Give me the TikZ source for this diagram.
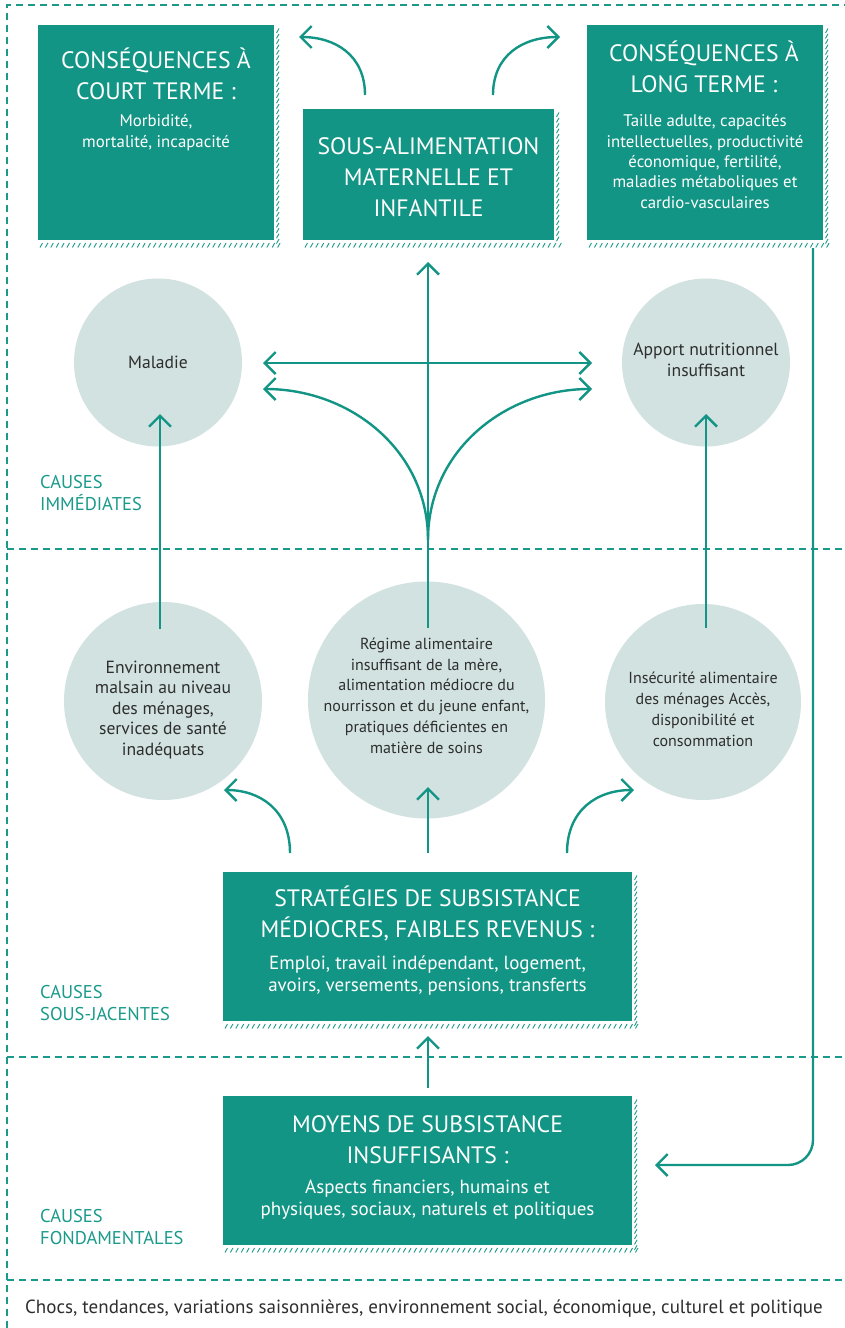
\documentclass[tikz,border=0pt]{standalone}
\usepackage{fontspec}
\setmainfont{PT Sans}
\usetikzlibrary{arrows.meta}
\definecolor{tealbox}{HTML}{139585}
\definecolor{tealline}{HTML}{1A9A8A}
\definecolor{circfill}{HTML}{D1E2E0}
\definecolor{darktext}{HTML}{2E2E2E}
\newcommand\hatchbox[4]{%
  \pgfmathtruncatemacro\hbN{(#4-#2-3)/5.4}%
  \foreach \i in {0,...,\hbN}{\draw[hatch] ({#3+2.5},{#2+8+\i*5.4}) -- ++(2.5,-4.5);}%
  \pgfmathtruncatemacro\hbM{(#3-#1+4)/5.4}%
  \foreach \i in {0,...,\hbM}{\draw[hatch] ({#1+2+\i*5.4},{#4+7.5}) -- ++(2.5,-4.5);}%
}
\begin{document}
\begin{tikzpicture}[x=1pt,y=-1pt,
  box/.style={fill=tealbox, inner sep=0pt, draw=none},
  circ/.style={circle, fill=circfill, inner sep=0pt, draw=none},
  title/.style={text=white, align=center, font=\fontsize{23.7}{31}\selectfont, anchor=base, inner sep=0pt},
  sub/.style={text=white, align=center, font=\fontsize{16.8}{20.3}\selectfont, anchor=base, inner sep=0pt},
  ctext/.style={text=darktext, align=center, font=\fontsize{17.6}{20.5}\selectfont, anchor=base, inner sep=0pt},
  ctextn/.style={text=darktext, align=center, font=\fontsize{16}{20.7}\selectfont, anchor=base, inner sep=0pt},
  lab/.style={text=tealline, align=left, font=\fontsize{18.5}{22}\selectfont, anchor=base west, inner sep=0pt},
  sep/.style={draw=tealline, line width=1.8pt, dash pattern=on 7pt off 5pt},
  hatch/.style={draw=tealline, line width=0.9pt},
  arr/.style={draw=tealbox, line width=2.4pt, -{Straight Barb[length=11pt,width=22pt]}},
  dblarr/.style={draw=tealbox, line width=2.4pt, {Straight Barb[length=11pt,width=22pt]}-{Straight Barb[length=11pt,width=22pt]}},
]
\useasboundingbox (0,0) rectangle (845,1328);
\fill[white] (0,0) rectangle (845,1328);

% frame and separators
\draw[sep] (7,1328) -- (7,5) -- (845,5);
\draw[sep] (7,549) -- (845,549);
\draw[sep] (7,1057) -- (845,1057);
\draw[sep] (7,1280) -- (845,1280);

% boxes
\hatchbox{38}{25}{274}{240}
\hatchbox{303}{109}{554}{240}
\hatchbox{587}{25}{823}{240}
\hatchbox{223}{872}{632}{1021}
\hatchbox{223}{1096}{632}{1245}
\node[box, minimum width=236pt, minimum height=215pt] (b1) at (156,132.5) {};
\node[box, minimum width=251pt, minimum height=131pt] (b2) at (428.5,174.5) {};
\node[box, minimum width=236pt, minimum height=215pt] (b3) at (705,132.5) {};
\node[box, minimum width=409pt, minimum height=149pt] (b4) at (427.5,946.5) {};
\node[box, minimum width=409pt, minimum height=149pt] (b5) at (427.5,1170.5) {};

% box texts (anchor = baseline of the last line)
\node[title] (t1) at (156,99) {CONSÉQUENCES À\\COURT TERME :};
\node[sub] (s1) at (156,147) {Morbidité,\\mortalité, incapacité};
\node[title] (t2) at (428.5,216) {SOUS-ALIMENTATION\\MATERNELLE ET\\INFANTILE};
\node[title] (t3) at (704,92) {CONSÉQUENCES À\\LONG TERME :};
\node[sub] (s3) at (705,208) {Taille adulte, capacités\\intellectuelles, productivité\\économique, fertilité,\\maladies métaboliques et\\cardio-vasculaires};
\node[title] (t4) at (427.5,937) {STRATÉGIES DE SUBSISTANCE\\MÉDIOCRES, FAIBLES REVENUS :};
\node[sub, font=\fontsize{19}{22}\selectfont] (s4) at (427.5,991) {Emploi, travail indépendant, logement,\\avoirs, versements, pensions, transferts};
\node[title] (t5) at (427.5,1163) {MOYENS DE SUBSISTANCE\\INSUFFISANTS :};
\node[sub, font=\fontsize{19}{22}\selectfont] (s5) at (427.5,1215) {Aspects financiers, humains et\\physiques, sociaux, naturels et politiques};

% circles
\node[circ, minimum size=168pt] (c1) at (158,362.5) {};
\node[circ, minimum size=168pt] (c2) at (706,362.5) {};
\node[circ, minimum size=198pt] (c3) at (163,701) {};
\node[circ, minimum size=237pt] (c4) at (426.5,700) {};
\node[circ, minimum size=196pt] (c5) at (703,702) {};

\node[ctext] (x1) at (158,368) {Maladie};
\node[ctext, font=\fontsize{17.6}{21}\selectfont] (x2) at (706,376) {Apport nutritionnel\\insuffisant};
\node[ctext] (x3) at (163,755) {Environnement\\malsain au niveau\\des ménages,\\services de santé\\inadéquats};
\node[ctextn] (x4) at (426.5,753) {Régime alimentaire\\insuffisant de la mère,\\alimentation médiocre du\\nourrisson et du jeune enfant,\\pratiques déficientes en\\matière de soins};
\node[ctextn] (x5) at (703,746) {Insécurité alimentaire\\des ménages Accès,\\disponibilité et\\consommation};

% labels
\node[lab] (l1) at (40,510) {CAUSES\\IMMÉDIATES};
\node[lab] (l2) at (40,1020) {CAUSES\\SOUS-JACENTES};
\node[lab] (l3) at (40,1244) {CAUSES\\FONDAMENTALES};
\node[anchor=base, inner sep=0pt, text=darktext, font=\fontsize{19}{22}\selectfont] (foot) at (424,1313) {Chocs, tendances, variations saisonnières, environnement social, économique, culturel et politique};

% connector coordinates
\coordinate (p1s) at (365,95);   \coordinate (p1e) at (299,37);
\coordinate (p2s) at (493,95);   \coordinate (p2e) at (560,37);
\coordinate (vs) at (428,628);   \coordinate (ve) at (428,262);
\coordinate (fork) at (428,540);
\coordinate (hl) at (263,363);   \coordinate (hr) at (592,363);
\coordinate (cl) at (263,389);   \coordinate (cr) at (592,389);
\coordinate (m1s) at (160,629);  \coordinate (m1e) at (160,414);
\coordinate (m2s) at (706,628);  \coordinate (m2e) at (706,414);
\coordinate (q1s) at (290,853);  \coordinate (q1e) at (224,790);
\coordinate (q2s) at (428,853);  \coordinate (q2e) at (428,787);
\coordinate (q3s) at (567,853);  \coordinate (q3e) at (634,790);
\coordinate (z1s) at (428,1088); \coordinate (z1e) at (428,1036);
\coordinate (r0) at (813,248);   \coordinate (r1) at (655,1165);

% connectors
\draw[arr] (p1s) .. controls (365,55) and (335,37) .. (p1e);
\draw[arr] (p2s) .. controls (493,55) and (523,37) .. (p2e);
\draw[arr] (vs) -- (ve);
\draw[dblarr] (hl) -- (hr);
\draw[arr] (fork) .. controls (428,450) and (350,389) .. (cl);
\draw[arr] (fork) .. controls (428,450) and (506,389) .. (cr);
\draw[arr] (m1s) -- (m1e);
\draw[arr] (m2s) -- (m2e);
\draw[arr] (q1s) .. controls (290,810) and (260,790) .. (q1e);
\draw[arr] (q2s) -- (q2e);
\draw[arr] (q3s) .. controls (567,810) and (597,790) .. (q3e);
\draw[arr] (z1s) -- (z1e);
\draw[arr, rounded corners=25pt] (r0) |- (r1);
\end{tikzpicture}
\end{document}
